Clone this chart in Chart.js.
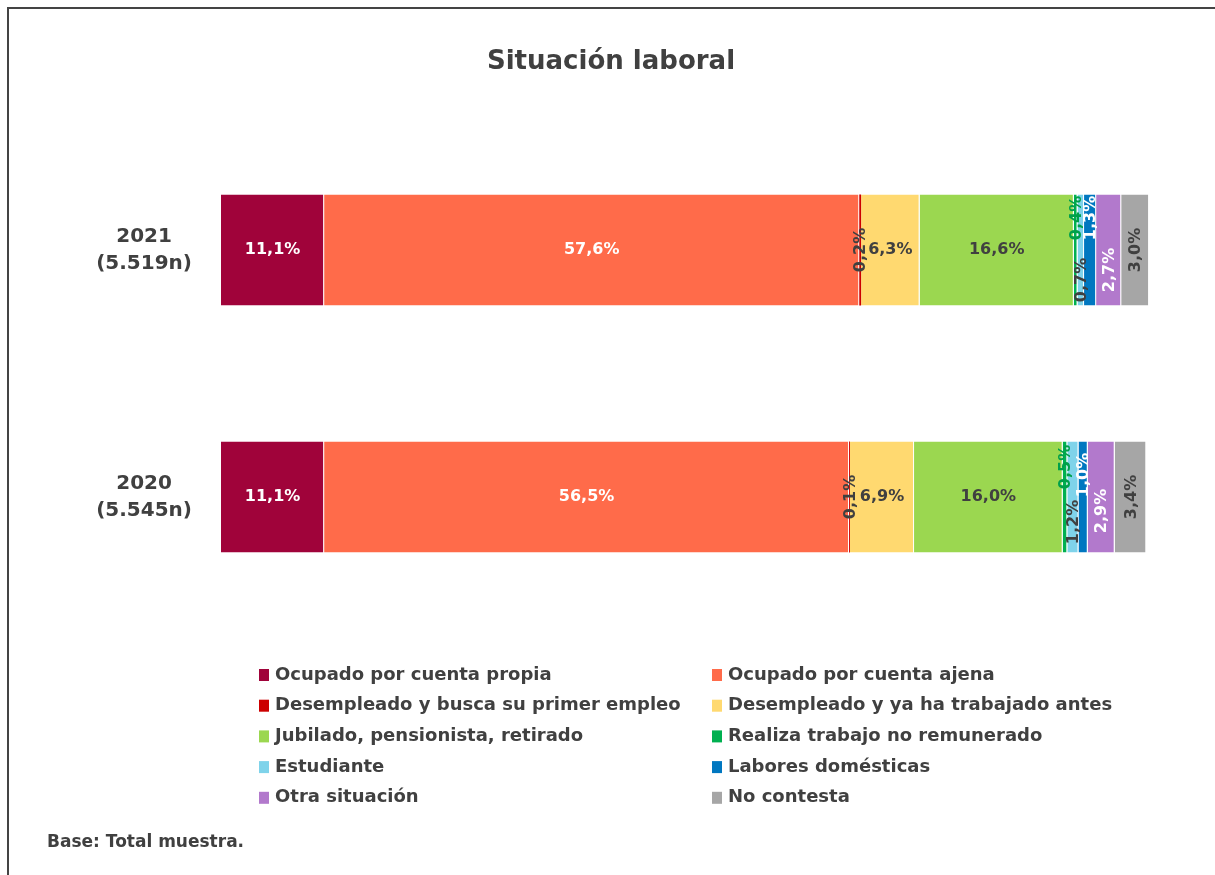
<!DOCTYPE html>
<html>
<head>
<meta charset="utf-8">
<script src="https://cdn.jsdelivr.net/npm/chart.js@4.4.1/dist/chart.umd.min.js"></script>
<style>
    html, body { margin: 0; padding: 0; background: #fff; }
    #wrap { position: relative; width: 1215px; height: 875px; overflow: hidden; }
    #frame { position: absolute; left: 7px; top: 7px; width: 1300px; height: 1000px;
             border-top: 2px solid #444; border-left: 2px solid #444; pointer-events: none; }
    canvas { position: absolute; left: 0; top: 0; }
</style>
</head>
<body>
<div id="wrap">
    <canvas id="chart" width="1215" height="875"></canvas>
    <div id="frame"></div>
</div>
<script>
const years = [['2021', '(5.519n)'], ['2020', '(5.545n)']]
const series = [
    'Ocupado por cuenta propia',
    'Ocupado por cuenta ajena',
    'Desempleado y busca su primer empleo',
    'Desempleado y ya ha trabajado antes',
    'Jubilado, pensionista, retirado',
    'Realiza trabajo no remunerado',
    'Estudiante',
    'Labores domésticas',
    'Otra situación',
    'No contesta'
]
// [2021, 2020]
const propia = [11.1, 11.1]
const ajena = [57.6, 56.5]
const primerEmpleo = [0.2, 0.1]
const yaTrabajado = [6.3, 6.9]
const jubilado = [16.6, 16.0]
const noRemunerado = [0.4, 0.5]
const estudiante = [0.7, 1.2]
const labores = [1.3, 1.0]
const otra = [2.7, 2.9]
const noContesta = [3.0, 3.4]
const values = [propia, ajena, primerEmpleo, yaTrabajado, jubilado, noRemunerado, estudiante, labores, otra, noContesta]

const colors = ['#A0033A', '#FF6B4A', '#CC0000', '#FFD970', '#9BD750', '#00B050', '#7FD3EA', '#0077C0', '#B279CC', '#A6A6A6']
const labelColors = ['#fff', '#fff', '#404040', '#404040', '#404040', '#00A04A', '#404040', '#fff', '#fff', '#404040']
// vertical nudges for the rotated small labels so they don't overlap: [dataset][row]
const labelShift = {5: [-32, -30], 6: [30, 25], 7: [-32, -22], 8: [20, 14]}

const FONT = "'DejaVu Sans', Verdana, sans-serif"
const TXT = '#404040'

const fmt = v => v.toFixed(1).replace('.', ',') + '%'

const barLabels = {
    id: 'barLabels',
    afterDatasetsDraw(chart) {
        const c = chart.ctx
        c.save()
        c.font = `bold 16px ${FONT}`
        c.textAlign = 'center'
        c.textBaseline = 'middle'
        chart.data.datasets.forEach((ds, i) => {
            chart.getDatasetMeta(i).data.forEach((bar, j) => {
                const v = ds.data[j]
                const cx = (bar.x + bar.base) / 2
                const cy = bar.y + (labelShift[i] ? labelShift[i][j] : 0)
                c.fillStyle = labelColors[i]
                if (v < 5) {
                    c.save()
                    c.translate(cx, cy)
                    c.rotate(-Math.PI / 2)
                    c.fillText(fmt(v), 0, 1)
                    c.restore()
                } else {
                    c.fillText(fmt(v), cx, cy)
                }
            })
        })
        c.restore()
    }
}

const texts = {
    id: 'texts',
    afterDraw(chart) {
        const c = chart.ctx
        c.save()
        c.fillStyle = TXT
        c.textBaseline = 'middle'
        c.textAlign = 'center'
        c.font = `bold 26px ${FONT}`
        c.fillText('Situación laboral', 611, 62)

        c.textAlign = 'left'
        c.font = `bold 18px ${FONT}`
        chart.data.datasets.forEach((ds, i) => {
            const col = i % 2, row = Math.floor(i / 2)
            const x = 259 + col * 453
            const y = 675 + row * 30.7
            c.fillStyle = ds.backgroundColor
            c.fillRect(x, y - 6, 10, 12)
            c.fillStyle = TXT
            c.fillText(ds.label, x + 16, y)
        })
        c.font = `bold 17px ${FONT}`
        c.fillText('Base: Total muestra.', 47, 843)
        c.restore()
    }
}

const ctx = document.getElementById('chart').getContext('2d')
new Chart(ctx, {
    type: 'bar',
    data: {
        labels: years,
        datasets: series.map((name, i) => ({
            label: name,
            data: values[i],
            backgroundColor: colors[i],
            borderColor: '#fff',
            borderWidth: i === 2 ? 0 : {left: 0, right: 1, top: 0, bottom: 0},
            borderSkipped: false,
            categoryPercentage: 1,
            barPercentage: 0.45
        }))
    },
    options: {
        indexAxis: 'y',
        responsive: false,
        animation: false,
        layout: {padding: {left: 0, right: 65, top: 126.5, bottom: 254.5}},
        scales: {
            x: {stacked: true, min: 0, max: 100, display: false},
            y: {
                stacked: true,
                grid: {display: false},
                border: {display: false},
                afterFit: s => { s.width = 221 },
                ticks: {
                    crossAlign: 'center',
                    padding: 21,
                    color: TXT,
                    font: {family: FONT, size: 20, weight: 'bold', lineHeight: 1.35}
                }
            }
        },
        plugins: {
            legend: {display: false},
            tooltip: {enabled: false},
            title: {display: false}
        }
    },
    plugins: [barLabels, texts]
})
</script>
</body>
</html>
